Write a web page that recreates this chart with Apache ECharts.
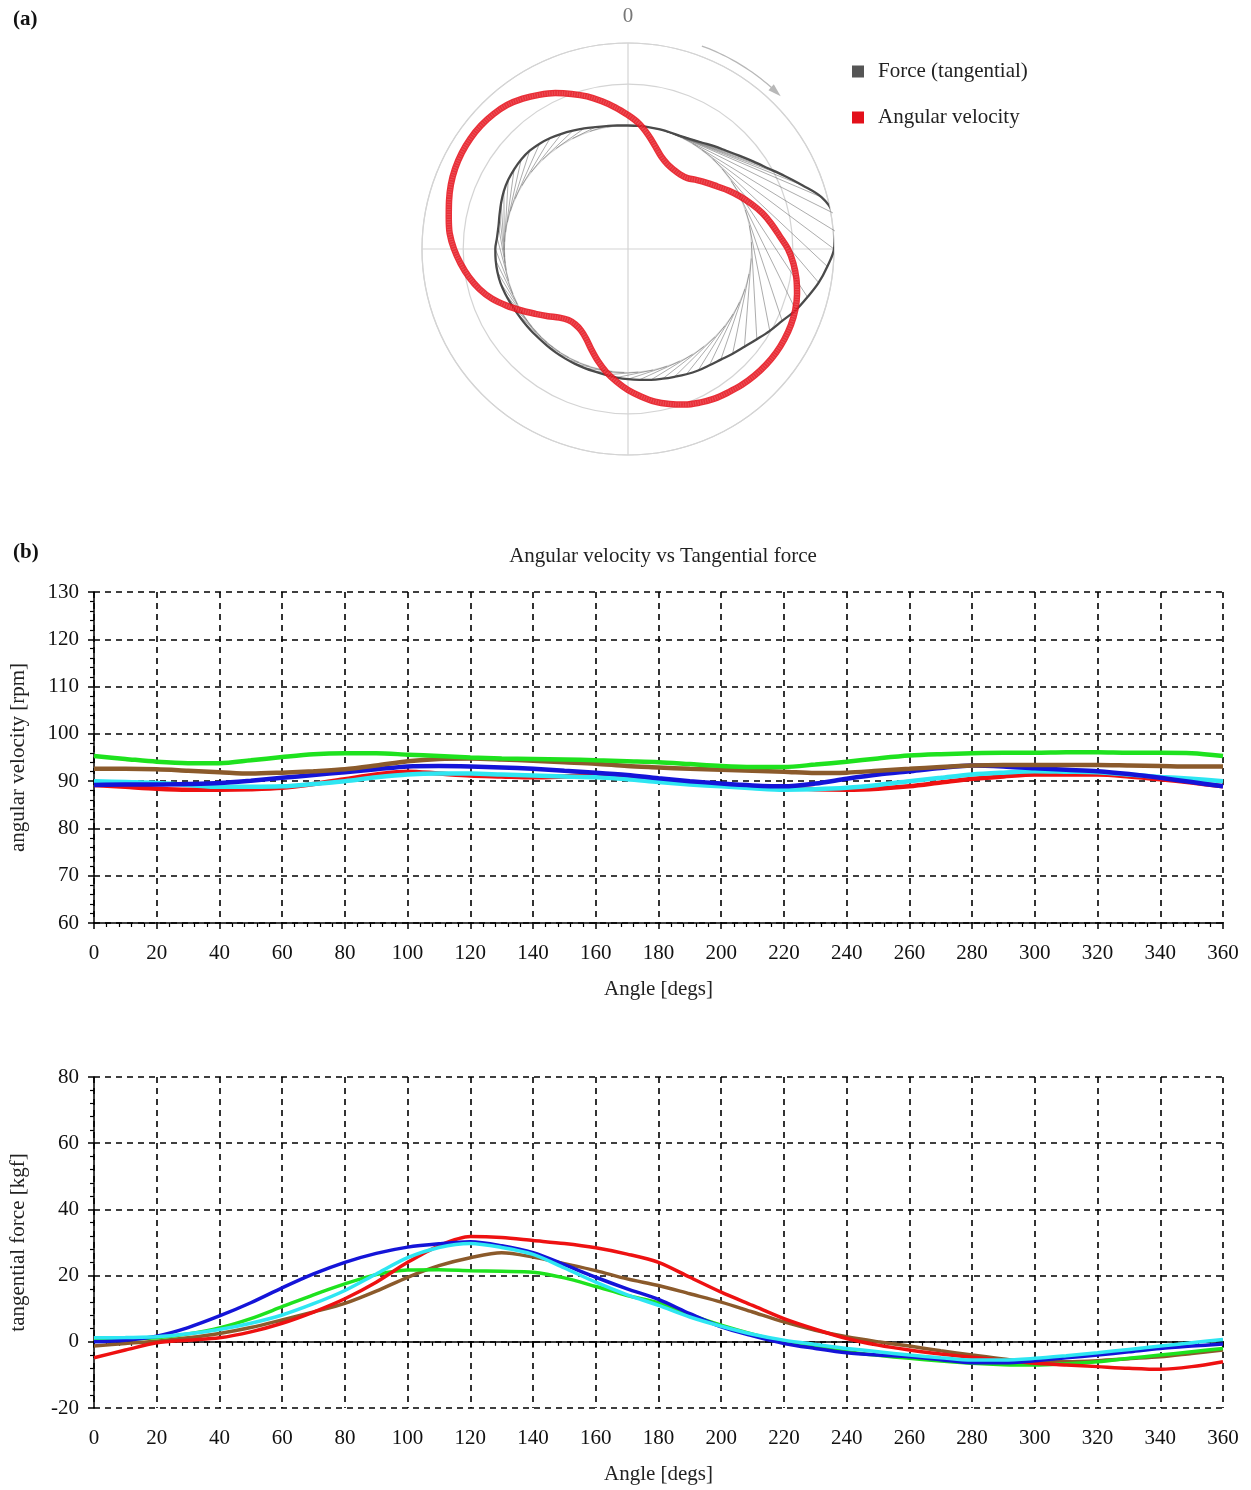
<!DOCTYPE html>
<html><head><meta charset="utf-8">
<script src="https://cdn.jsdelivr.net/npm/echarts@6/dist/echarts.min.js"></script>
<style>html,body{margin:0;padding:0;background:#fff}#c{width:1251px;height:1490px}</style>
</head><body><div id="c"></div>
<script>
// ---------- (a) polar data: radius (px-like units, 206 = outer ring) vs crank angle ----------
const polarAngles = [0,5,10,15,20,25,30,35,40,45,50,55,60,65,70,75,80,85,90,95,100,105,110,115,120,125,130,135,140,145,150,155,160,165,170,175,180,185,190,195,200,205,210,215,220,225,230,235,240,245,250,255,260,265,270,275,280,285,290,295,300,305,310,315,320,325,330,335,340,345,350,355];
const forcePolar = [123.5,123.5,123.6,123.8,124,124.5,126.5,129.7,134.2,139,
  145.2,152.7,161.6,172.9,185.9,200.3,208,207.6,206,200.1,
  193.6,185.8,178.6,170.1,163.7,157.3,152,148,144.4,142,
  140.3,138.2,136,134.3,132.8,131.3,130.2,129,127.8,127,
  126.7,126.5,126.3,126.2,126.1,126.2,126.8,127.4,128.1,129.3,
  130.7,132,132.6,132.8,132.7,131.5,131.5,133,135,137,
  138.3,139,139.4,139,137.5,135.5,133,130.5,128.3,126.2,
  124.8,124];
const velocityPolar = [134,126,116,106,98,93.5,91.5,91,92.5,97.5,
  103,109,116.5,124,131.5,139,145.5,152,160,166,
  171,175,178,179.8,180.6,180.8,180.2,179,177.3,175,
  172.8,169.5,165.6,160.5,155,148,141,133,125,116,
  107,99,94,92,92.8,97,104.5,113,123,134,
  145,154,161.5,168,174,179,182,185.3,188.5,190.7,
  192,192.4,192,190.5,188,183.5,178,172,165,158,
  150,142];
const zeroForceRadius = 123.6;

// ---------- (b) line charts ----------
const angleDeg = [0,10,20,30,40,50,60,70,80,90,100,110,120,130,140,150,160,170,180,190,200,210,220,230,240,250,260,270,280,290,300,310,320,330,340,350,360];

const velGreen = [95.3,94.7,94.1,93.8,93.8,94.4,95.1,95.7,95.9,95.9,95.6,95.3,95,94.8,94.7,94.6,94.4,94.2,94,93.6,93.2,93,93,93.5,94.1,94.8,95.4,95.7,95.9,96,96,96.1,96.1,96,96,95.9,95.3];
const velBrown = [92.6,92.6,92.5,92.2,91.9,91.6,91.8,92.1,92.5,93.3,94.2,94.7,94.8,94.6,94.3,94,93.7,93.2,92.9,92.6,92.4,92.2,92,91.7,91.8,92.2,92.6,93,93.3,93.4,93.4,93.4,93.4,93.3,93.2,93.1,93.1];
const velBlue  = [89.2,89.3,89.3,89.4,89.6,90.1,90.7,91.3,91.9,92.5,93.1,93.2,93.1,92.9,92.6,92.2,91.8,91.3,90.6,90,89.5,89.1,88.9,89.5,90.5,91.4,92.1,92.8,93.3,93.1,92.7,92.4,92.1,91.5,90.7,89.8,88.9];
const velRed   = [89.2,88.8,88.4,88.2,88.2,88.3,88.6,89.4,90.4,91.4,92,91.6,91.2,91,90.8,91,91.3,91,90.3,89.8,89.3,88.9,88.6,88.3,88.2,88.4,88.9,89.7,90.5,91,91.4,91.4,91.4,91,90.4,89.7,88.9];
const velCyan  = [90,89.8,89.6,89.2,88.8,88.8,88.9,89.4,90,90.8,91.4,91.6,91.6,91.4,91.2,91,90.8,90.4,89.8,89.3,88.9,88.5,88.2,88.3,88.6,89.2,90,90.7,91.4,91.8,92.1,92,91.9,91.4,90.9,90.5,90];

const frcRed   = [-4.8,-2.5,-0.3,0.5,1.2,3,5.6,9,13,18,24,29,31.8,31.5,30.6,29.7,28.4,26.5,24,19.5,15,11,7,3.8,1,-1,-2.5,-3.7,-4.7,-5.6,-6.5,-7,-7.5,-8,-8.3,-7.5,-6];
const frcBlue  = [0,0.5,1.7,4.3,7.8,11.8,16.3,20.5,24,26.7,28.6,29.6,30.2,29,26.9,23.3,19.5,16,12.8,8.5,4.5,1.8,-0.5,-2,-3.3,-4,-4.5,-5.4,-6.3,-6.3,-5.7,-4.8,-4,-3,-2,-1.3,-0.7];
const frcCyan  = [1.2,1.3,1.5,2.4,3.7,5.6,8.1,11.5,15.5,20.5,25.4,28.5,29.7,28.5,26.4,22.3,18,14.2,11,7.5,4.7,2.3,0.5,-0.8,-2,-3,-4,-4.8,-5.5,-5.5,-5,-4.2,-3.3,-2.3,-1.3,-0.3,0.7];
const frcGreen = [0.5,0.8,1.2,2.4,4.2,7,10.6,14.2,17.5,20.3,21.7,21.8,21.5,21.3,21,19.3,16.7,14,11.8,8.2,5,2.3,0,-1.6,-3,-4.1,-5,-5.8,-6.5,-6.9,-7,-6.6,-6,-5,-4,-3,-2];
const frcBrown = [-1.3,-0.5,0.2,1.2,2.5,4.3,6.6,9,11.6,15.3,19.5,23,25.4,26.9,25.6,23.6,21.5,19,17,14.5,12,9,6,3.5,1.5,0,-1.3,-2.7,-4,-5.2,-6,-6,-5.7,-5.1,-4.5,-3.5,-2.5];

const titles = ['(a)', '(b)', 'Angular velocity vs Tangential force'];
const legendNames = ['Force (tangential)', 'Angular velocity'];
const axisNames = ['angular velocity [rpm]', 'tangential force [kgf]', 'Angle [degs]'];

// ---------- build ----------
const SERIF = "'Liberation Serif','Times New Roman',serif";
const FS = 21;
function closed(radii){ const d = radii.map((r,i)=>[r, polarAngles[i]]); d.push([radii[0], 360]); return d; }
const forceData = closed(forcePolar);
const velData = closed(velocityPolar);
function pairs(ys){ return ys.map((y,i)=>[angleDeg[i], y]); }

function hatchRender(params, api){
  const R = api.value(0), th = api.value(1);
  if (R <= zeroForceRadius + 0.3) return null;
  const off = Math.acos(zeroForceRadius / R) * 180 / Math.PI;
  const p1 = api.coord([R, th]);
  const p2 = api.coord([zeroForceRadius, th - off]);
  return {type:'line', shape:{x1:p1[0],y1:p1[1],x2:p2[0],y2:p2[1]}, style:{stroke:'#6a6a6a', lineWidth:0.8, opacity:0.7}};
}
function arrowRender(params, api){
  const r = 216, a0 = 20, a1 = 42;
  const pts = [];
  for (let a = a0; a <= a1; a += 1) pts.push(api.coord([r, a]));
  const tip = api.coord([r, a1 + 3]);
  const b1 = api.coord([r - 4, a1 - 0.5]);
  const b2 = api.coord([r + 4, a1 - 0.5]);
  return {type:'group', children:[
    {type:'polyline', shape:{points:pts}, style:{stroke:'#b8b8b8', lineWidth:1.3, fill:null}},
    {type:'polygon', shape:{points:[tip,b1,b2]}, style:{fill:'#b8b8b8'}}
  ]};
}

function xAxisCfg(gi){
  return {gridIndex:gi, type:'value', min:0, max:360, interval:20,
    name:axisNames[2], nameLocation:'middle', nameGap:56,
    nameTextStyle:{fontFamily:SERIF, fontSize:FS, color:'#222'},
    axisLine:{lineStyle:{color:'#000', width:1.5}},
    axisTick:{show:true, length:6, lineStyle:{color:'#000', width:1.5}},
    minorTick:{show:true, splitNumber:5, length:4, lineStyle:{color:'#000', width:1.2}},
    axisLabel:{fontFamily:SERIF, fontSize:FS, color:'#111', margin:20},
    splitLine:{show:true, lineStyle:{color:'#000', width:1.6, type:[6,5]}}};
}
function yAxisCfg(gi, min, max, interval, name){
  return {gridIndex:gi, type:'value', min:min, max:max, interval:interval,
    name:name, nameLocation:'middle', nameGap:65,
    nameTextStyle:{fontFamily:SERIF, fontSize:FS, color:'#222'},
    axisLine:{show:true, lineStyle:{color:'#000', width:1.5}},
    axisTick:{show:true, length:6, lineStyle:{color:'#000', width:1.5}},
    minorTick:{show:true, splitNumber:5, length:4, lineStyle:{color:'#000', width:1.2}},
    axisLabel:{fontFamily:SERIF, fontSize:FS, color:'#111', margin:15},
    splitLine:{show:true, lineStyle:{color:'#000', width:1.6, type:[6,5]}}};
}
const lineColors = {green:'#1ee21e', brown:'#8b5a2b', blue:'#1414d8', red:'#ee1111', cyan:'#2ee6f2'};
function ls(name, data, color, xi, width){
  return {type:'line', name:name, xAxisIndex:xi, yAxisIndex:xi, data:data, smooth:0.3,
    showSymbol:false, symbol:'none', lineStyle:{color:color, width:width}, itemStyle:{color:color}, silent:true, z:3};
}

const chart = echarts.init(document.getElementById('c'), null, {renderer:'canvas'});
chart.setOption({
  animation:false,
  backgroundColor:'#fff',
  title:[
    {text:titles[0], left:8, top:4, textStyle:{fontFamily:SERIF, fontSize:FS, fontWeight:'bold', color:'#111'}},
    {text:titles[1], left:8, top:537, textStyle:{fontFamily:SERIF, fontSize:FS, fontWeight:'bold', color:'#111'}},
    {text:titles[2], left:658, textAlign:'center', top:541, textStyle:{fontFamily:SERIF, fontSize:FS, fontWeight:'normal', color:'#222'}}
  ],
  legend:{data:legendNames, orient:'vertical', left:847, top:56, itemGap:25, icon:'rect', itemWidth:12, itemHeight:12,
    textStyle:{fontFamily:SERIF, fontSize:FS, color:'#222', padding:[0,0,0,9]}, selectedMode:false},
  polar:{center:[628,249], radius:206},
  angleAxis:{type:'value', min:0, max:360, interval:90, startAngle:90, clockwise:true,
    axisLine:{show:true, lineStyle:{color:'#d4d4d4', width:1.2}},
    axisTick:{show:false},
    axisLabel:{show:true, margin:16, fontFamily:SERIF, fontSize:FS, color:'#777', formatter:v => (v===0 ? '0' : '')},
    splitLine:{show:true, lineStyle:{color:'#d4d4d4', width:1.2}}},
  radiusAxis:{type:'value', min:0, max:206, interval:41.2,
    axisLine:{show:false}, axisTick:{show:false}, axisLabel:{show:false},
    splitLine:{show:true, lineStyle:{color:['rgba(0,0,0,0)','rgba(0,0,0,0)','rgba(0,0,0,0)','#d4d4d4','#d4d4d4','#d4d4d4'], width:1.2}}},
  grid:[
    {left:94, top:592, width:1129, height:331},
    {left:94, top:1077, width:1129, height:331}
  ],
  xAxis:[xAxisCfg(0), xAxisCfg(1)],
  yAxis:[yAxisCfg(0, 60, 130, 10, axisNames[0]), yAxisCfg(1, -20, 80, 20, axisNames[1])],
  series:[
    {type:'custom', name:'hatch', coordinateSystem:'polar', data:forceData.slice(0,-1), encode:{radius:0, angle:1},
      renderItem:hatchRender, clip:false, silent:true, z:2},
    {type:'line', name:legendNames[0], coordinateSystem:'polar', data:forceData, smooth:0.35, clip:false, showSymbol:false, symbol:'none',
      lineStyle:{color:'#4a4a4a', width:2.3}, itemStyle:{color:'#555'}, silent:true, z:3},
    {type:'line', name:legendNames[1], coordinateSystem:'polar', data:velData, smooth:0.35, clip:false, showSymbol:false, symbol:'none',
      lineStyle:{color:'#e6121c', width:6.5, opacity:0.88}, itemStyle:{color:'#e3101a'}, silent:true, z:4},
    {type:'line', name:'velocity-texture', coordinateSystem:'polar', data:velData, smooth:0.35, clip:false, showSymbol:false, symbol:'none',
      lineStyle:{color:'#ffffff', width:4, opacity:0.16, type:[1,1.5]}, silent:true, z:5},
    {type:'custom', name:'arrow', coordinateSystem:'polar', data:[[216, 30]], encode:{radius:0, angle:1},
      renderItem:arrowRender, clip:false, silent:true, z:2},

    ls('v-red', pairs(velRed), lineColors.red, 0, 4.5),
    ls('v-cyan', pairs(velCyan), lineColors.cyan, 0, 4.5),
    ls('v-blue', pairs(velBlue), lineColors.blue, 0, 4.5),
    ls('v-brown', pairs(velBrown), lineColors.brown, 0, 4.5),
    ls('v-green', pairs(velGreen), lineColors.green, 0, 4.5),

    ls('f-brown', pairs(frcBrown), lineColors.brown, 1, 3.5),
    ls('f-green', pairs(frcGreen), lineColors.green, 1, 3.5),
    ls('f-red', pairs(frcRed), lineColors.red, 1, 3.5),
    ls('f-blue', pairs(frcBlue), lineColors.blue, 1, 3.5),
    ls('f-cyan', pairs(frcCyan), lineColors.cyan, 1, 3.5)
  ]
});
</script></body></html>
